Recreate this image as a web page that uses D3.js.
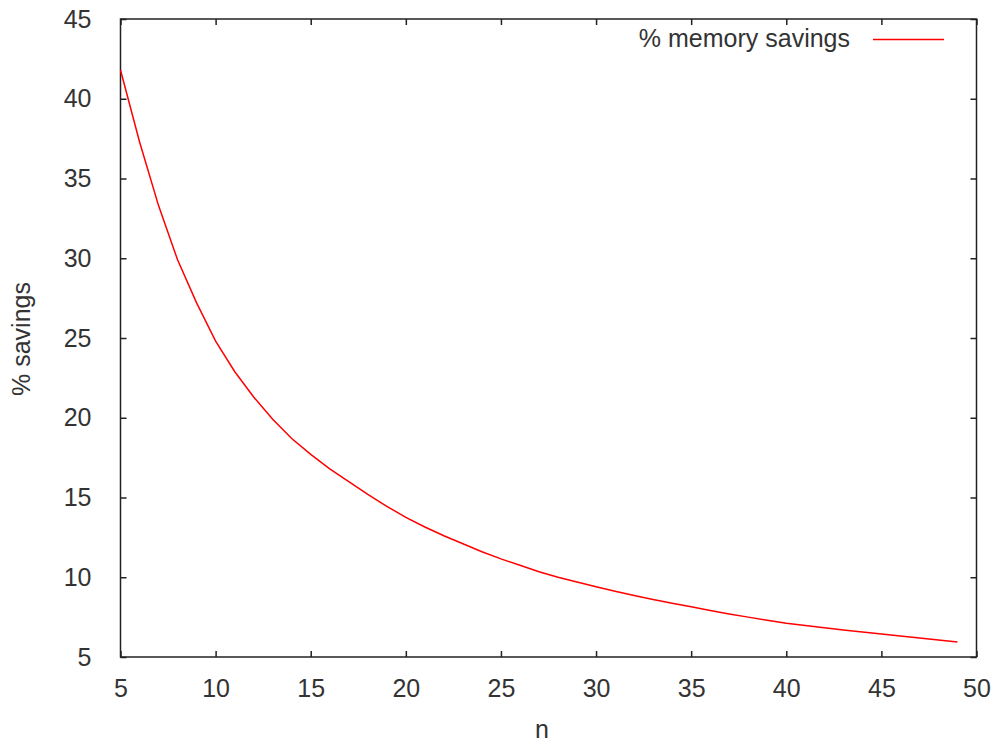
<!DOCTYPE html>
<html>
<head>
<meta charset="utf-8">
<script src="https://cdn.jsdelivr.net/npm/d3@7"></script>
<style>
  body { margin: 0; background: #fff; }
  text { font-family: "Liberation Sans", Arial, sans-serif; fill: #333; }
</style>
</head>
<body>
<script>
// values
const nValues = [5, 6, 7, 8, 9, 10, 11, 12, 13, 14, 15, 16, 17, 18, 19, 20, 21, 22, 23, 24, 25, 26, 27,
    28, 29, 30, 31, 32, 33, 34, 35, 36, 37, 38, 39, 40, 41, 42, 43, 44, 45, 46, 47, 48, 49];
const savings = [41.8, 37.3, 33.3, 29.9, 27.2, 24.8, 22.9, 21.3, 19.9, 18.7, 17.7, 16.8, 16.0, 15.2, 14.45,
    13.75, 13.15, 12.6, 12.1, 11.6, 11.15, 10.75, 10.35, 10.0, 9.7, 9.4, 9.12, 8.85, 8.6, 8.37, 8.15,
    7.92, 7.7, 7.5, 7.3, 7.11, 6.97, 6.83, 6.7, 6.57, 6.44, 6.32, 6.19, 6.06, 5.94];
const xTicks = [5, 10, 15, 20, 25, 30, 35, 40, 45, 50];
const yTicks = [5, 10, 15, 20, 25, 30, 35, 40, 45];
const seriesName = "% memory savings";

const w = 993, h = 745;
const plotL = 120.5, plotR = 976.5, plotT = 19, plotB = 657;

const svg = d3.select("body").append("svg")
    .attr("width", w)
    .attr("height", h);

const x = d3.scaleLinear().domain([5, 50]).range([plotL, plotR]);
const y = d3.scaleLinear().domain([5, 45]).range([plotB, plotT]);

const axisColor = "#222";
const fontSize = 25;

// ticks on all four sides, pointing inward
function ticksOn(g) {
    g.select(".domain").remove();
    g.selectAll(".tick line").attr("stroke", axisColor).attr("stroke-width", 1.5);
}

svg.append("g")
    .attr("transform", `translate(0,${plotB})`)
    .call(d3.axisBottom(x).tickValues(xTicks).tickSize(-6).tickPadding(22))
    .call(ticksOn)
    .call(g => g.selectAll("text")
        .attr("font-size", fontSize)
        .style("font-family", "Liberation Sans, Arial, sans-serif")
        .attr("fill", "#333"));

svg.append("g")
    .attr("transform", `translate(0,${plotT})`)
    .call(d3.axisTop(x).tickValues(xTicks).tickSize(-6).tickFormat(""))
    .call(ticksOn);

svg.append("g")
    .attr("transform", `translate(${plotL},0)`)
    .call(d3.axisLeft(y).tickValues(yTicks).tickSize(-6).tickPadding(29))
    .call(ticksOn)
    .call(g => g.selectAll("text")
        .attr("font-size", fontSize)
        .style("font-family", "Liberation Sans, Arial, sans-serif")
        .attr("fill", "#333"));

svg.append("g")
    .attr("transform", `translate(${plotR},0)`)
    .call(d3.axisRight(y).tickValues(yTicks).tickSize(-6).tickFormat(""))
    .call(ticksOn);

// plot border
svg.append("rect")
    .attr("x", plotL)
    .attr("y", plotT)
    .attr("width", plotR - plotL)
    .attr("height", plotB - plotT)
    .attr("fill", "none")
    .attr("stroke", axisColor)
    .attr("stroke-width", 1.5);

// the curve
const line = d3.line()
    .x((d, i) => x(nValues[i]))
    .y(d => y(d));

svg.append("path")
    .datum(savings)
    .attr("d", line)
    .attr("fill", "none")
    .attr("stroke", "#ff0000")
    .attr("stroke-width", 1.5);

// axis titles
svg.append("text")
    .attr("x", 542)
    .attr("y", 738)
    .attr("text-anchor", "middle")
    .attr("font-size", fontSize)
    .text("n");

svg.append("text")
    .attr("transform", "translate(30,339) rotate(-90)")
    .attr("text-anchor", "middle")
    .attr("font-size", fontSize)
    .text("% savings");

// legend
svg.append("text")
    .attr("x", 850)
    .attr("y", 47)
    .attr("text-anchor", "end")
    .attr("font-size", fontSize)
    .text(seriesName);

svg.append("line")
    .attr("x1", 873)
    .attr("x2", 944)
    .attr("y1", 39.5)
    .attr("y2", 39.5)
    .attr("stroke", "#ff0000")
    .attr("stroke-width", 1.5);
</script>
</body>
</html>
